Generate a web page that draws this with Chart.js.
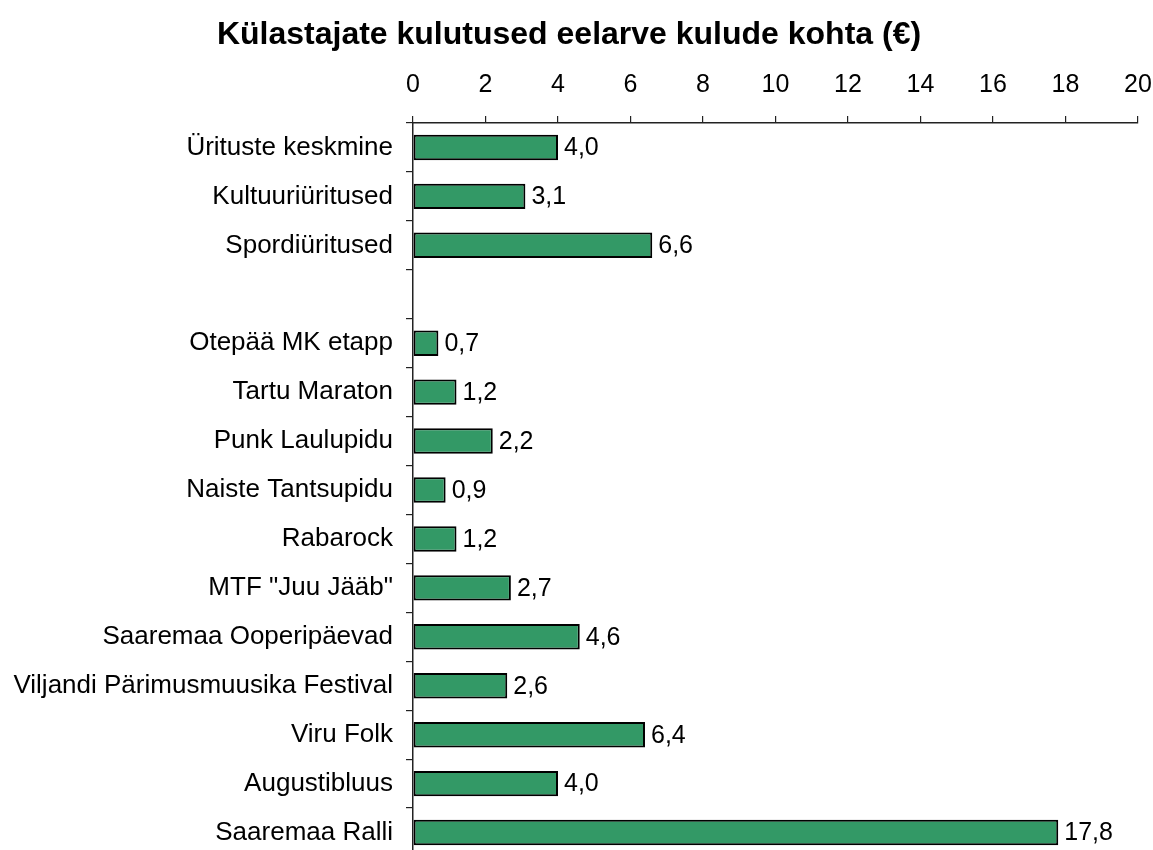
<!DOCTYPE html>
<html lang="et">
<head>
<meta charset="UTF-8">
<title>Külastajate kulutused</title>
<script src="https://cdn.jsdelivr.net/npm/chart.js"></script>
<style>
  html, body { margin:0; padding:0; background:#fff; overflow:hidden; }
  #chart { display:block; }
</style>
</head>
<body>
<canvas id="chart" width="1153" height="858"></canvas>
<script>
// categories, top to bottom ('' = empty spacer row)
const categories = [
  'Ürituste keskmine', 'Kultuuriüritused', 'Spordiüritused', '',
  'Otepää MK etapp', 'Tartu Maraton', 'Punk Laulupidu', 'Naiste Tantsupidu',
  'Rabarock', 'MTF "Juu Jääb"', 'Saaremaa Ooperipäevad',
  'Viljandi Pärimusmuusika Festival', 'Viru Folk', 'Augustibluus', 'Saaremaa Ralli'
];
const values = [4.0, 3.1, 6.6, null, 0.7, 1.2, 2.2, 0.9, 1.2, 2.7, 4.6, 2.6, 6.4, 4.0, 17.8];
const xTicks = [0, 2, 4, 6, 8, 10, 12, 14, 16, 18, 20];

const FONT = 'Liberation Sans, Arial, sans-serif';

// value labels right of each bar, comma decimal
const valueLabels = {
  id: 'valueLabels',
  afterDatasetsDraw(chart) {
    const { ctx } = chart;
    const meta = chart.getDatasetMeta(0);
    ctx.save();
    ctx.font = '25px ' + FONT;
    ctx.fillStyle = '#000';
    ctx.textAlign = 'left';
    ctx.textBaseline = 'middle';
    meta.data.forEach((bar, i) => {
      const v = values[i];
      if (v == null) return;
      ctx.fillText(v.toFixed(1).replace('.', ','), bar.x + 6, bar.y + 1);
    });
    ctx.restore();
  }
};

new Chart(document.getElementById('chart'), {
  type: 'bar',
  data: {
    labels: categories,
    datasets: [{
      data: values,
      backgroundColor: '#339966',
      borderColor: '#000',
      borderWidth: 2,
      borderSkipped: false,
      barPercentage: 0.52,
      categoryPercentage: 1
    }]
  },
  options: {
    indexAxis: 'y',
    responsive: false,
    animation: false,
    layout: { padding: { left: 0, right: 15, top: 0, bottom: 1 } },
    scales: {
      x: {
        position: 'top',
        min: 0,
        max: 20,
        afterBuildTicks: s => { s.ticks = xTicks.map(v => ({ value: v })); },
        afterFit: s => { s.height = 66.6; s.paddingLeft = 0; s.paddingRight = 0; },
        grid: {
          drawOnChartArea: false,
          drawTicks: true,
          tickLength: 7,
          color: '#222',
          lineWidth: 1.2
        },
        border: { color: '#222', width: 1.5 },
        ticks: { color: '#000', font: { family: FONT, size: 25 }, padding: 16, maxRotation: 0 }
      },
      y: {
        afterFit: s => { s.width = 413; s.paddingTop = 0; s.paddingBottom = 0; },
        grid: {
          drawOnChartArea: false,
          drawTicks: true,
          tickLength: 7,
          color: '#222',
          lineWidth: 1.2
        },
        border: { color: '#222', width: 1.5 },
        ticks: { color: '#000', font: { family: FONT, size: 26 }, padding: 13, autoSkip: false }
      }
    },
    plugins: {
      legend: { display: false },
      tooltip: { enabled: false },
      title: {
        display: true,
        text: 'Külastajate kulutused eelarve kulude kohta (€)',
        color: '#000',
        font: { family: FONT, size: 32, weight: 'bold' },
        padding: { top: 16, bottom: 2 }
      }
    }
  },
  plugins: [valueLabels]
});
</script>
</body>
</html>
